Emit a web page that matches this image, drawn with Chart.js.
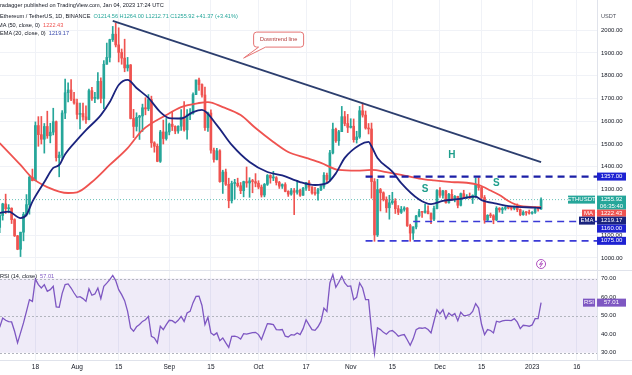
<!DOCTYPE html>
<html>
<head>
<meta charset="utf-8">
<script src="https://cdn.jsdelivr.net/npm/chart.js@4.4.0/dist/chart.umd.min.js"></script>
<style>
  html, body { margin: 0; padding: 0; background: #fff; }
  #wrap { position: relative; width: 632px; height: 375px; overflow: hidden; font-family: "Liberation Sans", Arial, sans-serif; }
  #mainChart { position: absolute; left: 0; top: 0; }
  #rsiChart { position: absolute; left: 0; top: 270px; }
  .t { position: absolute; left: 0; font-size: 5.6px; color: #131722; white-space: nowrap; line-height: 7px; }
  .teal { color: #26a69a; }
  .red { color: #ef5350; }
  .blue { color: #3949ab; }
  .purple { color: #7e57c2; }
</style>
</head>
<body>
<div id="wrap">
  <canvas id="mainChart" width="632" height="270"></canvas>
  <canvas id="rsiChart" width="632" height="105"></canvas>
  <div class="t" style="top:2px">radagger published on TradingView.com, Jan 04, 2023 17:24 UTC</div>
  <div class="t" style="top:13px">Ethereum / TetherUS, 1D, BINANCE &nbsp;<span class="teal">O1214.56 H1264.00 L1212.71 C1255.92 +41.37 (+3.41%)</span></div>
  <div class="t" style="top:22px;left:-2px">MA (50, close, 0) &nbsp;<span class="red">1222.43</span></div>
  <div class="t" style="top:30px">EMA (20, close, 0) &nbsp;<span class="blue">1219.17</span></div>
  <div class="t" style="top:13px;left:601px;color:#50535e">USDT</div>
  <div class="t" style="top:273px">RSI (14, close) &nbsp;<span class="purple">57.01</span></div>
</div>
<script>
// daily candles, ETH/USDT, 2022-07-06 .. 2023-01-04 (day index 0..182)
const opens = [
  1134,1186,1237,1216,1218,1168,1097,1038,1113,1191,
  1234,1354,1339,1581,1541,1521,1577,1536,1552,1598,
  1440,1451,1636,1725,1737,1697,1680,1630,1634,1619,
  1607,1734,1700,1700,1775,1700,1850,1880,1958,1982,
  1935,1902,1877,1834,1847,1612,1577,1617,1623,1659,
  1654,1695,1505,1490,1424,1553,1524,1553,1587,1577,
  1557,1578,1618,1562,1628,1635,1717,1781,1761,1715,
  1572,1636,1473,1432,1470,1335,1377,1323,1251,1327,
  1328,1317,1295,1335,1329,1338,1335,1328,1311,1276,
  1323,1362,1351,1352,1331,1315,1322,1292,1280,1295,
  1288,1297,1275,1306,1331,1311,1285,1283,1299,1314,
  1363,1344,1461,1565,1514,1554,1620,1590,1573,1578,
  1519,1531,1646,1627,1570,1566,1335,1101,1300,1286,
  1256,1220,1242,1250,1216,1200,1213,1219,1142,1109,
  1136,1184,1203,1200,1206,1195,1170,1217,1296,1275,
  1294,1242,1279,1259,1270,1231,1282,1264,1265,1263,
  1274,1320,1309,1265,1166,1187,1185,1167,1218,1211,
  1217,1220,1219,1217,1226,1212,1190,1200,1199,1196,
  1200,1215,1214.56
];
const highs = [
  1192,1240,1280,1234,1220,1172,1099,1113,1200,1278,
  1360,1390,1597,1620,1621,1590,1644,1591,1657,1601,
  1465,1647,1785,1768,1783,1727,1697,1680,1680,1667,
  1741,1749,1727,1814,1790,1866,1943,1960,2016,2030,
  2010,1917,1960,1880,1849,1652,1637,1626,1675,1703,
  1717,1710,1510,1500,1560,1605,1612,1592,1643,1580,
  1580,1651,1686,1651,1655,1725,1781,1789,1764,1750,
  1640,1650,1482,1481,1475,1385,1390,1350,1337,1345,
  1350,1331,1337,1399,1352,1345,1370,1339,1320,1327,
  1366,1365,1380,1357,1336,1325,1330,1295,1305,1305,
  1341,1302,1310,1332,1340,1313,1310,1305,1318,1375,
  1372,1472,1592,1570,1560,1665,1643,1630,1611,1610,
  1556,1665,1680,1645,1590,1592,1348,1345,1305,1290,
  1268,1275,1288,1260,1230,1226,1225,1221,1148,1137,
  1187,1213,1205,1235,1229,1198,1228,1300,1309,1297,
  1297,1284,1300,1274,1271,1285,1297,1278,1285,1277,
  1351,1352,1315,1274,1190,1197,1190,1225,1221,1223,
  1230,1223,1223,1228,1237,1215,1207,1202,1210,1203,
  1224,1220,1264
];
const lows = [
  1111,1166,1195,1198,1151,1094,1036,1006,1075,1184,
  1192,1338,1338,1490,1500,1460,1525,1505,1540,1425,
  1356,1431,1611,1685,1690,1675,1610,1566,1605,1590,
  1606,1691,1681,1697,1680,1655,1850,1860,1950,1926,
  1860,1850,1817,1820,1610,1528,1557,1520,1555,1628,
  1646,1485,1464,1422,1419,1500,1517,1540,1559,1545,
  1547,1560,1556,1521,1607,1631,1716,1735,1705,1560,
  1555,1460,1420,1430,1332,1283,1318,1220,1241,1258,
  1311,1282,1268,1310,1266,1286,1312,1303,1267,1268,
  1318,1328,1339,1320,1305,1305,1290,1270,1275,1190,
  1280,1270,1274,1296,1295,1280,1275,1254,1295,1305,
  1330,1337,1456,1507,1494,1554,1580,1550,1570,1508,
  1504,1525,1618,1565,1544,1262,1073,1094,1206,1250,
  1200,1170,1235,1195,1190,1195,1205,1138,1073,1081,
  1127,1180,1178,1196,1193,1150,1163,1215,1266,1262,
  1240,1240,1253,1246,1220,1228,1260,1260,1261,1239,
  1263,1297,1260,1152,1161,1177,1150,1163,1201,1195,
  1210,1215,1210,1211,1203,1185,1187,1187,1192,1192,
  1195,1205,1212.71
];
const closes = [
  1186,1237,1216,1218,1168,1097,1038,1113,1191,1234,
  1354,1339,1581,1541,1521,1577,1536,1552,1598,1440,
  1451,1636,1725,1737,1697,1680,1630,1634,1619,1607,
  1734,1700,1700,1775,1700,1850,1880,1958,1982,1935,
  1902,1877,1834,1847,1612,1577,1617,1623,1659,1654,
  1695,1505,1490,1424,1553,1524,1553,1587,1577,1557,
  1578,1618,1562,1628,1635,1717,1781,1761,1715,1572,
  1636,1473,1432,1470,1335,1377,1323,1251,1327,1328,
  1317,1295,1335,1329,1338,1335,1328,1311,1276,1323,
  1362,1351,1352,1331,1315,1322,1292,1280,1295,1288,
  1297,1275,1306,1331,1311,1285,1283,1299,1314,1363,
  1344,1461,1565,1514,1554,1620,1590,1573,1578,1519,
  1531,1646,1627,1570,1566,1335,1101,1300,1286,1256,
  1220,1242,1250,1216,1200,1213,1219,1142,1109,1136,
  1184,1203,1200,1206,1195,1170,1217,1296,1275,1294,
  1242,1279,1259,1270,1231,1282,1264,1265,1263,1274,
  1320,1309,1265,1166,1187,1185,1167,1218,1211,1217,
  1220,1219,1217,1226,1212,1190,1200,1199,1196,1200,
  1215,1214.56,1255.92
];

// indicator lines: [day, value]
const ma50 = [
  [0,1504],[7,1408],[11,1350],[16,1311],[23,1285],[26,1288],[31,1333],[37,1408],
  [43,1482],[48,1561],[56,1627],[61,1662],[67,1680],[70,1684],[75,1662],[81,1627],
  [86,1570],[92,1509],[97,1465],[103,1439],[108,1417],[114,1386],[120,1383],[125,1386],
  [130,1377],[135,1365],[141,1348],[146,1340],[152,1333],[157,1330],[161,1320],
  [165,1296],[168,1276],[171,1250],[175,1228],[182,1222.43]
];
const ema20 = [
  [0,1197],[3,1203],[7,1175],[9,1189],[11,1247],[15,1333],[18,1395],[20,1408],
  [22,1455],[26,1518],[29,1561],[34,1627],[37,1684],[40,1759],[43,1781],[46,1746],
  [50,1702],[54,1640],[57,1614],[61,1612],[65,1640],[68,1650],[73,1583],[78,1496],
  [84,1421],[90,1377],[95,1362],[101,1333],[106,1320],[110,1328],[113,1371],[116,1439],
  [121,1496],[124,1509],[125,1490],[127,1439],[132,1379],[135,1328],[141,1256],
  [145,1236],[149,1250],[154,1258],[160,1269],[162,1254],[167,1238],[172,1226],
  [180,1221],[182,1219.17]
];
const rsi = [
  43.7,48.7,47.5,46.8,46.6,41.6,35.3,40.7,46.1,52.3,
  58.6,57.7,69.7,66.7,64.9,66.7,63.1,64.0,65.8,54.7,
  54.5,62.0,66.7,67.1,64.9,62.2,59.9,60.2,59.2,57.7,
  64.5,61.0,61.7,64.9,59.2,65.8,67.5,69.4,71.7,68.9,
  64.0,61.3,58.1,52.3,43.4,41.6,44.0,45.2,46.9,47.8,
  49.6,38.9,38.0,35.3,44.3,42.5,45.2,47.5,47.3,46.1,
  47.5,49.6,46.9,51.4,52.3,57.0,60.4,60.5,55.5,45.2,
  49.1,40.7,39.5,40.7,36.5,38.0,35.3,32.9,38.9,39.0,
  38.5,37.4,40.3,40.0,40.5,40.8,41.0,39.8,37.1,41.5,
  45.7,45.5,45.2,42.5,42.3,42.5,38.9,38.5,39.8,39.5,
  40.7,39.8,43.0,47.8,45.0,42.5,42.1,44.0,46.9,54.1,
  52.3,67.6,72.1,65.3,68.0,71.2,67.6,65.8,66.0,58.6,
  59.9,67.6,64.9,58.6,58.6,42.0,29.5,43.4,42.5,41.0,
  40.0,41.6,42.0,40.7,38.9,39.5,39.8,37.0,34.0,37.5,
  42.5,43.4,43.2,43.5,42.5,40.7,47.0,53.2,51.0,53.2,
  48.4,51.4,50.0,51.1,47.3,51.8,50.0,50.2,50.5,52.3,
  56.5,54.1,45.2,39.8,42.5,42.0,40.7,47.0,46.5,47.2,
  47.5,47.5,47.3,48.4,46.5,43.0,44.8,44.6,44.3,45.0,
  48.4,48.4,57.01
];

// drawings on the chart
const trendline = [[38, 2040], [182, 1420]];
const levelPrices = [1357, 1160, 1075];
const levelFromDays = [123, 139, 123];
const patternText = ['S', 'H', 'S'];
const patternDays = [143, 152, 167];
const patternPrices = [1302, 1452, 1329];
const calloutText = 'Downtrend line';
const calloutPoint = [82, 1877];
const lastPrice = 1255.92;
const maLast = 1222.43;
const emaLast = 1219.17;
const rsiLast = 57.01;

// axes
const tickDays = [12, 26, 40, 57, 71, 87, 103, 118, 132, 148, 162, 179, 194];
const tickLabels = ['18', 'Aug', '15', 'Sep', '15', 'Oct', '17', 'Nov', '15', 'Dec', '15', '2023', '16'];
const priceTicks = [1000, 1100, 1200, 1300, 1400, 1500, 1600, 1700, 1800, 1900, 2000];
const rsiTicks = [70, 60, 50, 40, 30];

const UP = '#26a69a', DOWN = '#ef5350';
const FONT = '"Liberation Sans", Arial, sans-serif';
const days = closes.map((_, i) => i);
const candleColors = days.map(i => closes[i] >= opens[i] ? UP : DOWN);

const xScale = (extra) => Object.assign({
    type: 'linear', min: 0.1, max: 200.8, offset: false,
    ticks: { display: false },
    grid: { color: '#f0f2f7', drawTicks: false, offset: false },
    border: { display: false },
    afterBuildTicks: s => { s.ticks = tickDays.map(v => ({ value: v })); }
}, extra);

function tag(ctx, x, y, w, h, fill, lines) {
    ctx.fillStyle = fill;
    ctx.fillRect(x, y, w, h);
    ctx.fillStyle = '#fff';
    ctx.textAlign = 'center';
    ctx.textBaseline = 'middle';
    lines.forEach((s, k) => ctx.fillText(s, x + w / 2, y + 4 + k * 6.5));
}

const mainOverlay = {
    id: 'mainOverlay',
    afterDraw(chart) {
        const { ctx, chartArea: a, scales: { x, y } } = chart;
        ctx.save();
        // price axis labels
        ctx.font = '6px ' + FONT;
        ctx.fillStyle = '#131722';
        ctx.textAlign = 'left';
        ctx.textBaseline = 'middle';
        y.ticks.forEach(t => ctx.fillText(t.value.toFixed(2), a.right + 4, y.getPixelForValue(t.value)));

        // head and shoulders letters
        ctx.font = 'bold 10px ' + FONT;
        ctx.fillStyle = '#1f9e8c';
        ctx.textAlign = 'center';
        patternText.forEach((s, k) => ctx.fillText(s, x.getPixelForValue(patternDays[k]), y.getPixelForValue(patternPrices[k])));

        // callout
        const px = x.getPixelForValue(calloutPoint[0]), py = y.getPixelForValue(calloutPoint[1]);
        const bx = px + 10, by = py - 26, bw = 50, bh = 15, r = 3;
        ctx.beginPath();
        ctx.moveTo(bx + r, by);
        ctx.lineTo(bx + bw - r, by);
        ctx.quadraticCurveTo(bx + bw, by, bx + bw, by + r);
        ctx.lineTo(bx + bw, by + bh - r);
        ctx.quadraticCurveTo(bx + bw, by + bh, bx + bw - r, by + bh);
        ctx.lineTo(bx + 12, by + bh);
        ctx.lineTo(px, py);
        ctx.lineTo(bx + 5, by + bh);
        ctx.lineTo(bx + r, by + bh);
        ctx.quadraticCurveTo(bx, by + bh, bx, by + bh - r);
        ctx.lineTo(bx, by + r);
        ctx.quadraticCurveTo(bx, by, bx + r, by);
        ctx.closePath();
        ctx.fillStyle = '#fff';
        ctx.fill();
        ctx.strokeStyle = '#e57373';
        ctx.lineWidth = 1;
        ctx.stroke();
        ctx.font = '5.6px ' + FONT;
        ctx.fillStyle = '#b23a3a';
        ctx.fillText(calloutText, bx + bw / 2, by + bh / 2);

        // lightning marker under the last bar
        const lx = x.getPixelForValue(closes.length - 1), ly = a.bottom - 6;
        ctx.beginPath();
        ctx.arc(lx, ly, 4.5, 0, Math.PI * 2);
        ctx.fillStyle = '#fff';
        ctx.fill();
        ctx.strokeStyle = '#9c27b0';
        ctx.lineWidth = 0.8;
        ctx.stroke();
        ctx.beginPath();
        ctx.moveTo(lx + 1, ly - 3); ctx.lineTo(lx - 1.5, ly + 0.5); ctx.lineTo(lx + 1.5, ly - 0.5); ctx.lineTo(lx - 1, ly + 3);
        ctx.stroke();

        // axis tags
        ctx.font = '6px ' + FONT;
        const W = 29;
        const top1357 = y.getPixelForValue(levelPrices[0]) - 4;
        tag(ctx, a.right, top1357, W, 8, '#1e22d2', [levelPrices[0].toFixed(2)]);

        const group = [
            { v: lastPrice, h: 14, fill: UP, lines: [lastPrice.toFixed(2), '06:35:40'], side: 'ETHUSDT', sw: 27 },
            { v: maLast, h: 7, fill: DOWN, lines: [maLast.toFixed(2)], side: 'MA', sw: 13 },
            { v: emaLast, h: 8, fill: '#1a237e', lines: [emaLast.toFixed(2)], side: 'EMA', sw: 16 },
            { v: levelPrices[1], h: 8, fill: '#1e22d2', lines: [levelPrices[1].toFixed(2)] },
            { v: levelPrices[2], h: 8, fill: '#1e22d2', lines: [levelPrices[2].toFixed(2)] }
        ];
        let bottom = -Infinity;
        group.forEach(g => {
            const top = Math.max(y.getPixelForValue(g.v) - 4, bottom);
            tag(ctx, a.right, top, W, g.h, g.fill, g.lines);
            if (g.side) tag(ctx, a.right - 2 - g.sw, top, g.sw, Math.min(g.h, 8), g.fill, [g.side]);
            bottom = top + g.h;
        });
        ctx.restore();
    }
};

const pts = arr => arr.map(([d, v]) => ({ x: d, y: v }));
const lineSet = (data, color, width, dash) => ({
    type: 'line', data, borderColor: color, borderWidth: width, borderDash: dash || [],
    pointRadius: 0, fill: false, cubicInterpolationMode: 'monotone'
});

const levelSets = levelPrices.map((p, k) => Object.assign(
    lineSet([{ x: levelFromDays[k], y: p }, { x: 200.8, y: p }], k === 0 ? '#1b1fa6' : '#3a3ad6', k === 0 ? 2.2 : 1.6, [7, 5]),
    { order: 1 }));

new Chart(document.getElementById('mainChart'), {
    type: 'bar',
    data: {
        datasets: [
            { data: days.map(i => ({ x: i, y: [lows[i], highs[i]] })), backgroundColor: candleColors, barThickness: 1, grouped: false, order: 6 },
            { data: days.map(i => ({ x: i, y: [opens[i], closes[i]] })), backgroundColor: candleColors, barThickness: 2, minBarLength: 1, grouped: false, order: 5 },
            Object.assign(lineSet([{ x: 0.1, y: lastPrice }, { x: 200.8, y: lastPrice }], 'rgba(38,166,154,0.7)', 1, [1, 2]), { order: 7 }),
            Object.assign(lineSet(pts(ma50), '#ef5350', 1.8), { order: 3 }),
            Object.assign(lineSet(pts(ema20), '#1a237e', 1.8), { order: 2 }),
            Object.assign(lineSet(pts(trendline), '#2c3e6e', 1.8), { order: 1 }),
            ...levelSets
        ]
    },
    options: {
        responsive: false, animation: false,
        layout: { padding: 0 },
        plugins: { legend: { display: false }, tooltip: { enabled: false } },
        scales: {
            x: xScale({ afterFit: s => { s.height = 0; } }),
            y: {
                type: 'linear', position: 'right', min: 947, max: 2132,
                ticks: { display: false },
                grid: { color: '#f0f2f7', drawTicks: false },
                border: { display: true, color: '#e0e3eb' },
                afterBuildTicks: s => { s.ticks = priceTicks.map(v => ({ value: v })); },
                afterFit: s => { s.width = 35; }
            }
        }
    },
    plugins: [mainOverlay]
});

const rsiOverlay = {
    id: 'rsiOverlay',
    beforeDatasetsDraw(chart) {
        const { ctx, chartArea: a, scales: { y } } = chart;
        ctx.save();
        ctx.fillStyle = 'rgba(126,87,194,0.12)';
        ctx.fillRect(a.left, y.getPixelForValue(70), a.right - a.left, y.getPixelForValue(30) - y.getPixelForValue(70));
        ctx.strokeStyle = '#b2b5be';
        ctx.lineWidth = 1;
        ctx.setLineDash([2, 2]);
        [70, 50, 30].forEach(v => {
            const py = Math.round(y.getPixelForValue(v)) + 0.5;
            ctx.beginPath(); ctx.moveTo(a.left, py); ctx.lineTo(a.right, py); ctx.stroke();
        });
        ctx.restore();
    },
    afterDraw(chart) {
        const { ctx, chartArea: a, scales: { x, y } } = chart;
        ctx.save();
        ctx.strokeStyle = '#e0e3eb';
        ctx.lineWidth = 1;
        ctx.beginPath(); ctx.moveTo(0, 0.5); ctx.lineTo(632, 0.5); ctx.stroke();
        ctx.beginPath(); ctx.moveTo(0, a.bottom + 0.5); ctx.lineTo(632, a.bottom + 0.5); ctx.stroke();
        ctx.font = '6px ' + FONT;
        ctx.fillStyle = '#131722';
        ctx.textAlign = 'left';
        ctx.textBaseline = 'middle';
        rsiTicks.forEach(v => ctx.fillText(v.toFixed(2), a.right + 4, y.getPixelForValue(v)));
        const top = y.getPixelForValue(rsiLast) - 4;
        tag(ctx, a.right, top, 29, 8, '#7e57c2', [rsiLast.toFixed(2)]);
        tag(ctx, a.right - 14, top, 12, 8, '#7e57c2', ['RSI']);
        ctx.font = '6.5px ' + FONT;
        ctx.fillStyle = '#131722';
        ctx.textAlign = 'center';
        tickDays.forEach((d, k) => ctx.fillText(tickLabels[k], x.getPixelForValue(d), a.bottom + 7.5));
        ctx.restore();
    }
};

new Chart(document.getElementById('rsiChart'), {
    type: 'line',
    data: {
        datasets: [{
            data: rsi.map((v, i) => ({ x: i, y: v })),
            borderColor: '#7e57c2', borderWidth: 1.3, pointRadius: 0, tension: 0
        }]
    },
    options: {
        responsive: false, animation: false,
        layout: { padding: 0 },
        plugins: { legend: { display: false }, tooltip: { enabled: false } },
        scales: {
            x: xScale({ afterFit: s => { s.height = 15; } }),
            y: {
                type: 'linear', position: 'right', min: 26.1, max: 74.6,
                ticks: { display: false },
                grid: { display: false },
                border: { display: true, color: '#e0e3eb' },
                afterFit: s => { s.width = 35; }
            }
        }
    },
    plugins: [rsiOverlay]
});
</script>
</body>
</html>
